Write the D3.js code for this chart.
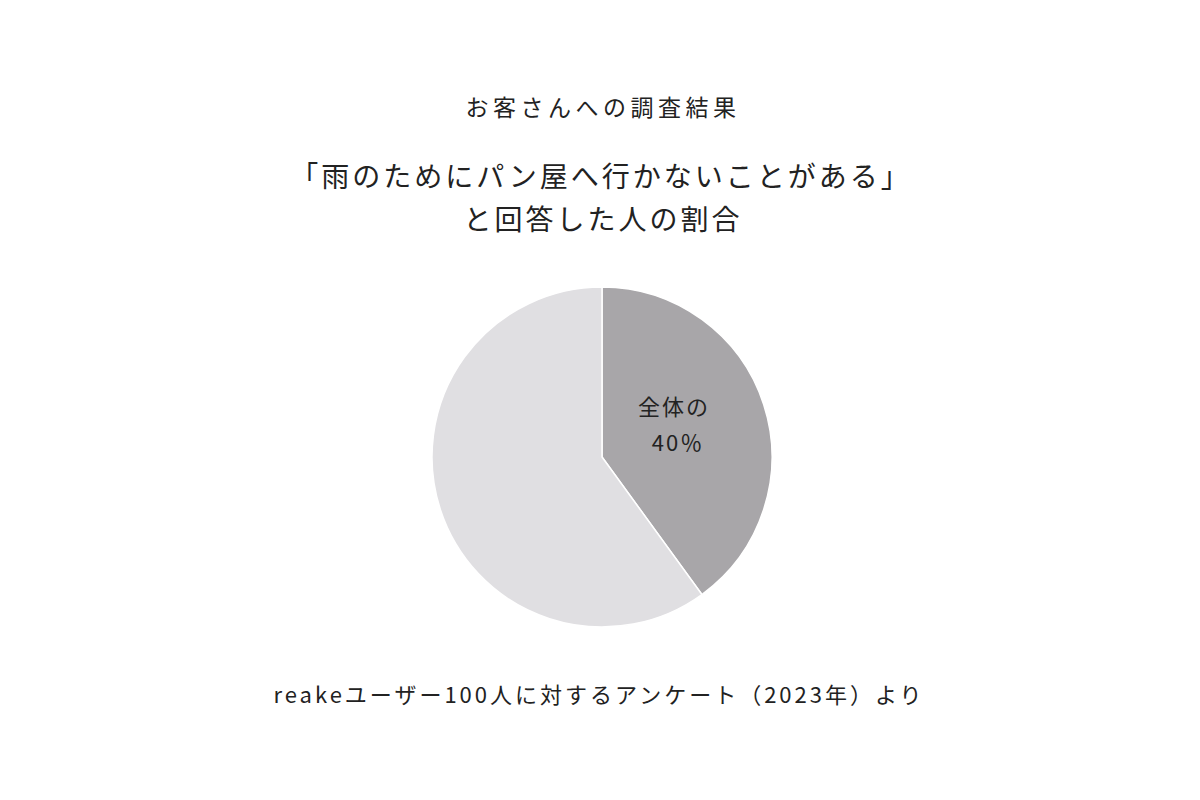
<!DOCTYPE html>
<html>
<head>
<meta charset="utf-8">
<script src="https://cdn.jsdelivr.net/npm/d3@7"></script>
<style>
  body { margin: 0; background: #fff; }
  svg text { font-family: "Noto Sans CJK JP", "Noto Sans", sans-serif; fill: #222; }
</style>
</head>
<body>
<div id="main"></div>
<script>
// data
const categories = ["はい", "いいえ"];
const values = [40, 60];
const colors = ["#a8a6a9", "#e0dfe2"];
const sliceLabels = ["全体の", "40％"];
const titleLines = ["お客さんへの調査結果", "「雨のためにパン屋へ行かないことがある」", "と回答した人の割合"];
const footnote = "reakeユーザー100人に対するアンケート（2023年）より";

const width = 1200, height = 800;
const cx = 602, cy = 457, radius = 170;

const svg = d3.select("#main").append("svg")
    .attr("width", width)
    .attr("height", height)
    .attr("viewBox", [0, 0, width, height]);

// titles
svg.append("text")
    .attr("x", 603).attr("y", 116)
    .attr("text-anchor", "middle")
    .attr("font-size", 23)
    .attr("letter-spacing", 4.5)
    .text(titleLines[0]);

svg.append("text")
    .attr("x", 601).attr("y", 187)
    .attr("text-anchor", "middle")
    .attr("font-size", 28)
    .attr("letter-spacing", 3)
    .text(titleLines[1]);

svg.append("text")
    .attr("x", 603).attr("y", 230)
    .attr("text-anchor", "middle")
    .attr("font-size", 28)
    .attr("letter-spacing", 3)
    .text(titleLines[2]);

// pie
const pie = d3.pie().sort(null).value(d => d)(values);
const arc = d3.arc().innerRadius(0).outerRadius(radius);

const g = svg.append("g").attr("transform", `translate(${cx},${cy})`);

g.selectAll("path")
    .data(pie)
    .join("path")
    .attr("d", arc)
    .attr("fill", (d, i) => colors[i])
    .attr("stroke", "#fff")
    .attr("stroke-width", 1.5);

// label in the 40% slice
const lbl = g.append("text")
    .attr("text-anchor", "middle")
    .attr("font-size", 22)
    .attr("letter-spacing", 2);
lbl.selectAll("tspan")
    .data(sliceLabels)
    .join("tspan")
    .attr("x", (d, i) => 72 + i * 4)
    .attr("y", (d, i) => -42 + i * 36)
    .text(d => d);

// footnote
svg.append("text")
    .attr("x", 599).attr("y", 703)
    .attr("text-anchor", "middle")
    .attr("font-size", 22)
    .attr("letter-spacing", 3)
    .text(footnote);
</script>
</body>
</html>
